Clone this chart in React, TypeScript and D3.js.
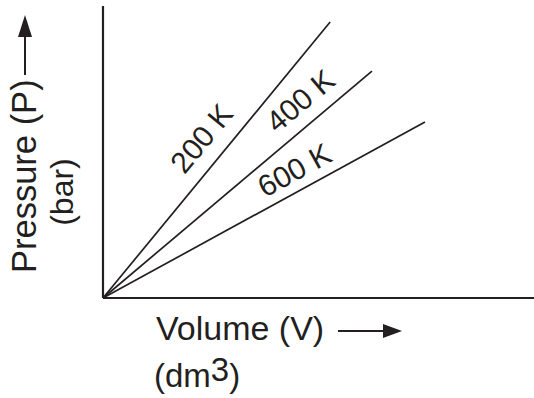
import React from "react";
import * as d3 from "d3";

// Data (arbitrary units)
const temperatures = ["200 K", "400 K", "600 K"];
const endVolume = [5.27, 6.24, 7.47];
const endPressure = [9.45, 7.77, 6.03];
const labelAlong = [0.52, 0.79, 0.625];
const labelOffset = [15, 13, 10];

const W = 534;
const H = 398;
const origin = { x: 103, y: 298 };

export default function App() {
  const x = d3.scaleLinear().domain([0, 10]).range([origin.x, 534]);
  const y = d3.scaleLinear().domain([0, 10]).range([origin.y, 6]);
  const line = d3.line<[number, number]>().x((d) => x(d[0])).y((d) => y(d[1]));
  const ink = "#231f20";
  const font = "'Liberation Sans', Arial, Helvetica, sans-serif";

  return (
    <svg
      width={W}
      height={H}
      style={{ position: "absolute", left: 0, top: 0, background: "#fff" }}
      fontFamily={font}
    >
      {/* axes */}
      <line x1={x(0)} y1={y(0)} x2={x(0)} y2={y(10)} stroke={ink} strokeWidth={2.2} />
      <line x1={x(0)} y1={y(0)} x2={x(10)} y2={y(0)} stroke={ink} strokeWidth={2.2} />

      {/* isotherm lines */}
      {temperatures.map((t, i) => {
        const pts: [number, number][] = [
          [0, 0],
          [endVolume[i], endPressure[i]],
        ];
        const x0 = x(0), y0 = y(0);
        const x1 = x(endVolume[i]), y1 = y(endPressure[i]);
        const ang = (Math.atan2(y1 - y0, x1 - x0) * 180) / Math.PI;
        const lx = x0 + (x1 - x0) * labelAlong[i];
        const ly = y0 + (y1 - y0) * labelAlong[i];
        return (
          <g key={t}>
            <path d={line(pts) || ""} stroke={ink} strokeWidth={1.7} fill="none" />
            <text
              transform={`translate(${lx},${ly}) rotate(${ang})`}
              dy={-labelOffset[i]}
              textAnchor="middle"
              fontSize={30}
              fill={ink}
            >
              {t}
            </text>
          </g>
        );
      })}

      {/* y axis title */}
      <text transform="translate(36,273) rotate(-90)" fontSize={34.5} fill={ink}>
        Pressure (P)
      </text>
      <text transform="translate(73,192) rotate(-90)" textAnchor="middle" fontSize={32} fill={ink}>
        (bar)
      </text>
      <line x1={25} y1={75} x2={25} y2={35} stroke={ink} strokeWidth={2} />
      <path d="M25,15 L32,37 L18,37 Z" fill={ink} />

      {/* x axis title */}
      <text x={156} y={340} fontSize={34} fill={ink}>
        Volume (V)
      </text>
      <line x1={338} y1={331} x2={386} y2={331} stroke={ink} strokeWidth={2} />
      <path d="M402,331 L383,324 L383,338 Z" fill={ink} />
      <text x={154} y={387} fontSize={33} fill={ink}>
        (dm<tspan dy={-6}>3</tspan>
        <tspan dy={6}>)</tspan>
      </text>
    </svg>
  );
}
